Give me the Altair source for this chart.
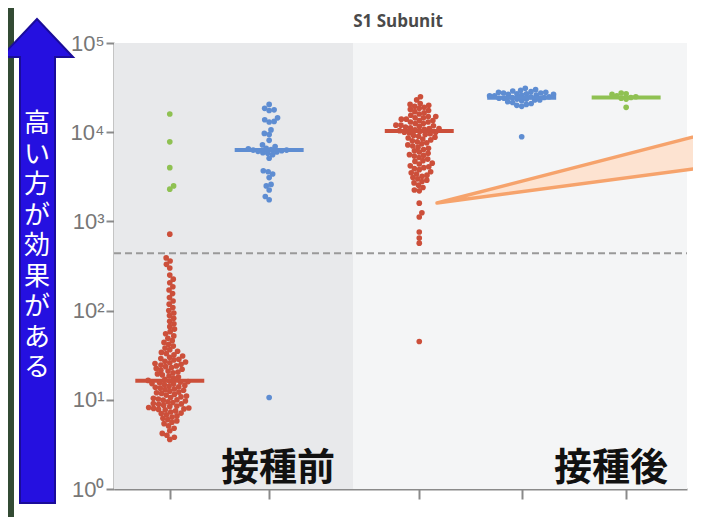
import math
import numpy as np
import pandas as pd
import altair as alt

# ---------------- data ----------------
red_pre = [720,
           390, 360, 330, 300,
           250, 225, 205, 185, 170, 155, 140,
           128, 118, 108, 100, 94, 88, 82, 76, 71,
           66, 62, 58, 55, 52, 49, 46, 44, 42, 40,
           38, 36.5, 35, 34, 33, 32, 31, 30, 29, 28.5, 28,
           27, 26.5, 26, 25.5, 25, 24.5, 24, 23.5, 23, 22.5, 22, 21.5, 21, 20.5, 20, 19.5, 19, 18.5, 18, 17.5, 17,
           16.5, 16.2, 16, 15.8, 15.5, 15.2, 15, 14.8, 14.5, 14.2, 14, 13.8, 13.5, 13.2, 13, 12.8, 12.5, 12.2, 12, 11.8,
           11.5, 11.3, 11, 10.8, 10.6, 10.4, 10.2, 10, 9.9, 9.7, 9.5, 9.3, 9.1, 9, 8.9, 8.7, 8.5, 8.4, 8.2, 8.1,
           8, 7.9, 7.8, 7.7,
           7.5, 7.3, 7.1, 7, 6.8, 6.6, 6.4, 6.2, 6, 5.8, 5.6,
           5.4, 5.1, 4.8, 4.5, 4.2, 4, 3.8, 3.6]
green_pre = [16000, 7800, 4000, 2500, 2300]
blue_pre = [20500, 18500, 17500, 17800, 14500, 13800, 13200, 13000, 10600, 9700, 9400, 8100,
            7200, 6900, 6600, 6500, 6400, 6300, 6300, 6200, 6100, 6000, 5900, 5800, 5600, 5100,
            3700, 3600, 3400, 3100, 2600, 2500, 2250, 1900, 1750, 10.6]
red_post = [25000, 23000,
            21000, 20500, 20000, 19500, 19000, 18500, 18000, 17500, 17000, 16500,
            16000, 15500, 15000, 15000, 14500, 14500, 14000, 14000, 13500, 13500, 13000, 13000, 12500, 12500,
            12000, 12000, 11800, 11600, 11400, 11200, 11000, 11000, 10800, 10600, 10400, 10200, 10000, 10000, 9800, 9600,
            9400, 9200, 9000, 8800, 8600, 8400, 8200, 8000, 7800, 7600, 7400, 7200,
            7000, 6800, 6600, 6400, 6200, 6000, 5800, 5600, 5500, 5400, 5200,
            5000, 4800, 4700, 4500, 4400, 4200, 4100, 4000, 3900, 3800,
            3600, 3500, 3400, 3300, 3200, 3100, 3000, 2900, 2800,
            2700, 2550, 2400, 2250, 2200,
            1600, 1250, 1120, 760, 650, 570, 45]
blue_post = [31000, 30000, 29500, 29000, 28500, 28000, 28000, 27500, 27500, 27000, 27000, 26500, 26500,
             26000, 26000, 25500, 25500, 25000, 25000, 24500, 24500, 24000, 24000, 23500, 23500, 23000,
             23000, 22500, 22000, 21500, 21000, 20500, 20000, 19500, 8900]
green_post = [27500, 27000, 26500, 25500, 25000, 24500, 24000, 23500, 19000]

groups = ["red_pre", "green_pre", "blue_pre", "red_post", "blue_post", "green_post"]
group_values = [red_pre, green_pre, blue_pre, red_post, blue_post, green_post]
group_pos = [0, 0, 0.98, 2.46, 3.47, 4.5]
group_colors = ["#cc4f3a", "#8fc152", "#5e8dd2", "#cc4f3a", "#5e8dd2", "#8fc152"]

median_groups = ["red_pre", "blue_pre", "red_post", "blue_post", "green_post"]
median_values = [16.4, 6300, 10300, 24400, 24500]
median_pos = [0, 0.98, 2.46, 3.47, 4.5]

cutoff = 440
tick_values = [1, 10, 100, 1000, 10000, 100000]
x_ticks = [0, 0.98, 2.46, 3.47, 4.5]

# ---------------- layout ----------------
W, H = 573, 446
X_DOMAIN = [-0.55, 5.1]
PX_PER_UNIT = W / (X_DOMAIN[1] - X_DOMAIN[0])
PX_PER_DEC = H / 5.0
SPLIT = 1.807


def swarm(vals, d):
    ys = np.log10(np.array(vals, dtype=float)) * PX_PER_DEC
    order = np.argsort(ys)
    placed = []
    xs = np.zeros(len(vals))
    flip = 1
    for i in order:
        y = ys[i]
        forb = []
        for (xj, yj) in placed:
            dy = abs(y - yj)
            if dy < d:
                w = math.sqrt(d * d - dy * dy)
                forb.append((xj - w, xj + w))
        cands = [0.0] + [a for a, b in forb] + [b for a, b in forb]
        cands.sort(key=lambda c: (round(abs(c), 6), flip * c))
        x = 0.0
        for c in cands:
            if all(not (a + 1e-6 < c < b - 1e-6) for a, b in forb):
                x = c
                break
        flip = -flip
        xs[i] = x
        placed.append((x, y))
    return xs


rows = []
for g, vals, pos in zip(groups, group_values, group_pos):
    offs = swarm(vals, 5.0)
    for v, o in zip(vals, offs):
        rows.append({"grp": g, "value": v, "x": pos + o / PX_PER_UNIT})
pts = pd.DataFrame(rows)

med = pd.DataFrame({"grp": median_groups, "value": median_values,
                    "x1": [p - 0.34 for p in median_pos], "x2": [p + 0.34 for p in median_pos]})

xs = alt.Scale(domain=X_DOMAIN, nice=False, zero=False)
ys = alt.Scale(type="log", domain=[1, 100000], nice=False)
cs = alt.Scale(domain=groups, range=group_colors)

one = pd.DataFrame({"a": [0]})

x_axis = alt.Axis(values=x_ticks, labels=False, ticks=True, tickSize=10, tickWidth=2,
                  tickColor="#8a8a8a", domainColor="#8a8a8a", domainWidth=2,
                  grid=False, title=None)
y_axis = alt.Axis(values=tick_values, grid=False, title=None,
                  labelExpr="'10' + ['⁰','¹','²','³','⁴','⁵'][round(log(datum.value)/LN10)]",
                  labelFont="Liberation Sans", labelFontSize=22,
                  labelColor="#777777", tickSize=8, tickWidth=2,
                  tickColor="#8a8a8a", domainColor="#8a8a8a",
                  domainWidth=2, labelPadding=2)

left_region = alt.Chart(pd.DataFrame({"x1": [X_DOMAIN[0]], "x2": [SPLIT], "y1": [1], "y2": [100000]})).mark_rect(
    color="#e8e9eb").encode(
    x=alt.X("x1:Q", scale=xs, axis=x_axis), x2="x2:Q",
    y=alt.Y("y1:Q", scale=ys, axis=y_axis), y2="y2:Q")
right_region = alt.Chart(pd.DataFrame({"x1": [SPLIT], "x2": [X_DOMAIN[1]], "y1": [1], "y2": [100000]})).mark_rect(
    color="#f4f5f6").encode(
    x=alt.X("x1:Q", scale=xs), x2="x2:Q",
    y=alt.Y("y1:Q", scale=ys), y2="y2:Q")

cut_layer = alt.Chart(pd.DataFrame({"v": [cutoff]})).mark_rule(
    color="#999999", strokeWidth=2, strokeDash=[7, 4]).encode(
    y=alt.Y("v:Q", scale=ys), x=alt.value(0), x2=alt.value(W))

pt_layer = alt.Chart(pts).mark_circle(size=32, opacity=1).encode(
    x=alt.X("x:Q", scale=xs), y=alt.Y("value:Q", scale=ys),
    color=alt.Color("grp:N", scale=cs, legend=None))

med_layer = alt.Chart(med).mark_rule(strokeWidth=4).encode(
    x=alt.X("x1:Q", scale=xs), x2="x2:Q", y=alt.Y("value:Q", scale=ys),
    color=alt.Color("grp:N", scale=cs, legend=None))

title_layer = alt.Chart(one).mark_text(
    text="S1 Subunit", font="Open Sans", fontWeight="bold", fontSize=17, color="#4a4a4a",
    align="center", baseline="middle").encode(x=alt.value(284), y=alt.value(-21))

pre_label = alt.Chart(one).mark_text(
    text="接種前", font="Noto Sans CJK JP", fontWeight="bold", fontSize=38, color="#111111",
    align="center", baseline="alphabetic").encode(x=alt.value(164), y=alt.value(437))
post_label = alt.Chart(one).mark_text(
    text="接種後", font="Noto Sans CJK JP", fontWeight="bold", fontSize=38, color="#111111",
    align="center", baseline="alphabetic").encode(x=alt.value(497), y=alt.value(437))

strip = alt.Chart(one).mark_rect(color="#334b34").encode(
    x=alt.value(-106), x2=alt.value(-100), y=alt.value(-35), y2=alt.value(H + 28))

wedge = alt.Chart(one).mark_point(
    shape="M 323 160 L 600 88.6 L 600 123.3 Z", size=4, filled=True, opacity=1,
    fill="#fde3d1", stroke="#f6a36c", strokeWidth=3.5, strokeJoin="round").encode(
    x=alt.value(0), y=alt.value(0))

arrow = alt.Chart(one).mark_point(
    shape="M -77 -24 L -113 14 L -94 14 L -94 460 L -59 460 L -59 14 L -41 14 Z",
    size=4, filled=True, opacity=1, fill="#2510e0", stroke="#1a0c9a", strokeWidth=2).encode(
    x=alt.value(0), y=alt.value(0))

arrow_text = alt.Chart(one).mark_text(
    text=list("高い方が効果がある"), font="Noto Sans CJK JP", fontSize=26, lineHeight=30.5,
    color="white", align="center", baseline="top").encode(x=alt.value(-77), y=alt.value(68))

chart = alt.layer(
    left_region, right_region, strip, cut_layer, pt_layer, med_layer, pre_label, post_label,
    title_layer, wedge, arrow, arrow_text
).properties(
    width=W, height=H,
    autosize=alt.AutoSizeParams(type="none"),
    padding={"left": 106, "top": 35, "right": 6, "bottom": 28},
    background="white",
).configure_view(stroke=None)

chart.save("out.html", embed_options={"renderer": "svg", "actions": False})
